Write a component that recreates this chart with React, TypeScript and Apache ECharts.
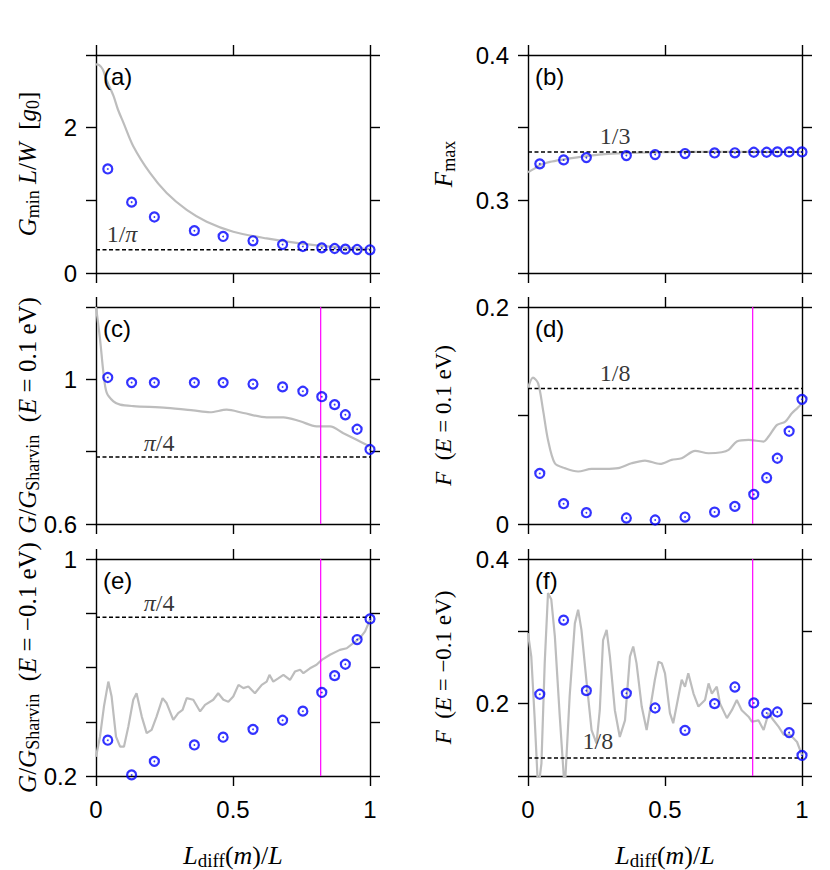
import React, { useEffect, useRef } from 'react';
import * as echarts from 'echarts';

// ---------- data ----------
const markerX = [0.043, 0.13, 0.213, 0.359, 0.464, 0.573, 0.681, 0.755, 0.824, 0.871, 0.91, 0.953, 1.0];

const dotsA = [1.432, 0.975, 0.771, 0.582, 0.503, 0.443, 0.392, 0.365, 0.346, 0.337, 0.328, 0.323, 0.319];
const dotsB = [0.3251, 0.3278, 0.3294, 0.3308, 0.3315, 0.3322, 0.3326, 0.3327, 0.3331, 0.3331, 0.3333, 0.3333, 0.3333];
const dotsC = [1.005, 0.991, 0.991, 0.991, 0.991, 0.987, 0.979, 0.967, 0.952, 0.93, 0.902, 0.862, 0.806];
const dotsD = [0.0466, 0.0187, 0.0104, 0.0055, 0.0037, 0.0064, 0.011, 0.0162, 0.0273, 0.0426, 0.0606, 0.0855, 0.1149];
const dotsE = [0.332, 0.204, 0.254, 0.3145, 0.343, 0.372, 0.4055, 0.439, 0.508, 0.57, 0.612, 0.703, 0.779];
const dotsF = [0.213, 0.3155, 0.218, 0.2143, 0.194, 0.163, 0.2, 0.223, 0.201, 0.187, 0.1885, 0.16, 0.1284];

const curveAX = [0, 0.012, 0.025, 0.039, 0.0635, 0.08, 0.1, 0.136, 0.197, 0.258, 0.331, 0.404, 0.501, 0.623, 0.745, 0.866, 1];
const curveAY = [2.87, 2.86, 2.8, 2.65, 2.44, 2.25, 2.07, 1.745, 1.377, 1.1, 0.868, 0.706, 0.568, 0.476, 0.407, 0.36, 0.33];

const curveBX = [0, 0.02, 0.046, 0.08, 0.131, 0.18, 0.216, 0.28, 0.358, 0.45, 0.6, 0.8, 1];
const curveBY = [0.3193, 0.3215, 0.3245, 0.3265, 0.3282, 0.3296, 0.3305, 0.3318, 0.3325, 0.333, 0.3333, 0.3333, 0.3333];

const curveCX = [0, 0.0146, 0.027, 0.039, 0.0635, 0.088, 0.136, 0.258, 0.355, 0.416, 0.477, 0.538, 0.623, 0.684, 0.745, 0.805, 0.854, 0.903, 0.951, 1];
const curveCY = [1.2, 1.112, 1.019, 0.963, 0.939, 0.93, 0.926, 0.921, 0.914, 0.909, 0.916, 0.907, 0.895, 0.895, 0.884, 0.87, 0.87, 0.851, 0.833, 0.814];

const curveDX = [0, 0.018, 0.037, 0.055, 0.073, 0.098, 0.134, 0.183, 0.232, 0.28, 0.329, 0.378, 0.427, 0.482, 0.524, 0.561, 0.61, 0.659, 0.707, 0.732, 0.762, 0.805, 0.86, 0.878, 0.909, 0.939, 0.963, 0.982, 1];
const curveDY = [0.125, 0.135, 0.1296, 0.105, 0.0775, 0.056, 0.0515, 0.0484, 0.0508, 0.0508, 0.0515, 0.056, 0.0585, 0.0554, 0.0591, 0.0606, 0.0674, 0.0652, 0.0661, 0.0683, 0.076, 0.0775, 0.076, 0.0806, 0.0913, 0.0943, 0.102, 0.1066, 0.111];

const curveEX = [0, 0.0146, 0.029, 0.045, 0.057, 0.073, 0.088, 0.102, 0.118, 0.136, 0.148, 0.167, 0.185, 0.203, 0.221, 0.243, 0.258, 0.282, 0.3, 0.316, 0.331, 0.355, 0.38, 0.398, 0.428, 0.446, 0.465, 0.483, 0.501, 0.52, 0.538, 0.556, 0.58, 0.605, 0.623, 0.633, 0.647, 0.665, 0.684, 0.708, 0.726, 0.745, 0.757, 0.781, 0.805, 0.824, 0.854, 0.89, 0.915, 0.939, 0.963, 0.982, 1];
const curveEY = [0.271, 0.345, 0.456, 0.548, 0.493, 0.345, 0.308, 0.308, 0.382, 0.481, 0.505, 0.419, 0.358, 0.37, 0.419, 0.487, 0.468, 0.407, 0.432, 0.444, 0.487, 0.481, 0.438, 0.462, 0.481, 0.505, 0.481, 0.474, 0.493, 0.536, 0.524, 0.53, 0.505, 0.536, 0.548, 0.573, 0.548, 0.56, 0.573, 0.554, 0.585, 0.592, 0.579, 0.597, 0.61, 0.628, 0.647, 0.665, 0.671, 0.69, 0.708, 0.733, 0.776];

const curveFX = [0, 0.012, 0.024, 0.037, 0.049, 0.061, 0.073, 0.085, 0.098, 0.116, 0.134, 0.152, 0.171, 0.183, 0.195, 0.213, 0.232, 0.25, 0.262, 0.274, 0.287, 0.299, 0.317, 0.335, 0.354, 0.372, 0.384, 0.396, 0.415, 0.433, 0.445, 0.463, 0.476, 0.488, 0.5, 0.518, 0.53, 0.549, 0.561, 0.573, 0.585, 0.604, 0.622, 0.646, 0.659, 0.671, 0.689, 0.701, 0.726, 0.744, 0.762, 0.78, 0.805, 0.817, 0.841, 0.86, 0.878, 0.896, 0.915, 0.933, 0.957, 0.982, 1];
const curveFY = [0.2975, 0.265, 0.182, 0.08, 0.117, 0.256, 0.353, 0.344, 0.293, 0.182, 0.08, 0.21, 0.311, 0.33, 0.302, 0.233, 0.1635, 0.145, 0.191, 0.288, 0.302, 0.265, 0.191, 0.154, 0.177, 0.265, 0.279, 0.256, 0.196, 0.1635, 0.191, 0.233, 0.258, 0.256, 0.242, 0.187, 0.173, 0.21, 0.233, 0.2235, 0.242, 0.214, 0.196, 0.205, 0.228, 0.214, 0.2235, 0.2, 0.18, 0.191, 0.205, 0.191, 0.182, 0.175, 0.177, 0.1635, 0.187, 0.177, 0.168, 0.157, 0.157, 0.147, 0.129];

const refValues = [0.3183, 0.3333, 0.7854, 0.125, 0.7854, 0.125];
const refTexts = ['{n|1/}{i|π}', '{n|1/3}', '{i|π}{n|/4}', '{n|1/8}', '{i|π}{n|/4}', '{n|1/8}'];
const refTextPos = [[0.095, 0.536], [0.318, 0.3444], [0.23, 0.824], [0.318, 0.139], [0.23, 0.839], [0.255, 0.148]];
const magentaX = 0.82;

const yMin = [0, 0.25, 0.6, 0, 0.2, 0.1];
const yMax = [3, 0.4, 1.2, 0.2, 1, 0.4];
const yInterval = [1, 0.05, 0.2, 0.1, 0.2, 0.1];
const yTickLabels = [[0, 2], [0.3, 0.4], [0.6, 1], [0, 0.2], [0.2, 1], [0.2, 0.4]];
const xTickLabels = [0, 0.5, 1];
const panelNames = ['(a)', '(b)', '(c)', '(d)', '(e)', '(f)'];
const hasMagenta = [false, false, true, true, true, true];

const yTitles = [
  '{i|G}{s|min}{i| L}{n|/}{i|W}{n|  [}{i|g}{s|0}{n|]}',
  '{i|F}{s|max}',
  '{i|G}{n|/}{i|G}{s|Sharvin}{n|  (}{i|E}{n| = 0.1 eV)}',
  '{i|F}{n|  (}{i|E}{n| = 0.1 eV)}',
  '{i|G}{n|/}{i|G}{s|Sharvin}{n|  (}{i|E}{n| = −0.1 eV)}',
  '{i|F}{n|  (}{i|E}{n| = −0.1 eV)}',
];
const xTitle = '{i|L}{s|diff}{n|(}{i|m}{n|)/}{i|L}';

// ---------- styling ----------
const SERIF = "'Liberation Serif', 'DejaVu Serif', serif";
const SANS = "'Liberation Sans', Arial, sans-serif";
const GREY = '#bdbdbd';
const BLUE = '#0000ff';

const rich = (size: number) => ({
  i: { fontFamily: SERIF, fontStyle: 'italic', fontSize: size, lineHeight: 30, verticalAlign: 'middle', color: '#000' },
  n: { fontFamily: SERIF, fontSize: size, lineHeight: 30, verticalAlign: 'middle', color: '#000' },
  s: { fontFamily: SERIF, fontSize: Math.round(size * 0.72), lineHeight: 15, verticalAlign: 'bottom', color: '#000' },
});

const curvesX = [curveAX, curveBX, curveCX, curveDX, curveEX, curveFX];
const curvesY = [curveAY, curveBY, curveCY, curveDY, curveEY, curveFY];
const dots = [dotsA, dotsB, dotsC, dotsD, dotsE, dotsF];

const fmt = (v: number) => String(parseFloat(v.toFixed(4)));
const inList = (v: number, list: number[]) => list.some((l) => Math.abs(l - v) < 1e-7);

function buildOption() {
  const grid: any[] = [];
  const xAxis: any[] = [];
  const yAxis: any[] = [];
  const series: any[] = [];
  const graphic: any[] = [];
  const lefts = [96, 528];
  const tops = [55, 307, 559];
  const heights = [218, 217, 217];
  const axisLine = { show: true, onZero: false, lineStyle: { color: '#000', width: 1.4 } };
  const axisTick = { show: true, inside: false, length: 10, lineStyle: { color: '#000', width: 1.4 } };

  for (let i = 0; i < 6; i++) {
    const col = i % 2;
    const row = Math.floor(i / 2);
    const left = lefts[col];
    const top = tops[row];
    const height = heights[row];
    grid.push({ left, top, width: 274, height, show: false });
    const bottomRow = row === 2;
    const xl = xTickLabels;
    xAxis.push({
      type: 'value', gridIndex: i, position: 'bottom', min: 0, max: 1, interval: 0.5,
      axisLine, axisTick, splitLine: { show: false },
      axisLabel: {
        show: bottomRow, margin: 21, fontFamily: SANS, fontSize: 24, color: '#000',
        formatter: (v: number) => (inList(v, xl) ? fmt(v) : ''),
      },
    });
    xAxis.push({
      type: 'value', gridIndex: i, position: 'top', min: 0, max: 1, interval: 0.5,
      axisLine, axisTick, splitLine: { show: false }, axisLabel: { show: false },
    });
    const yl = yTickLabels[i];
    yAxis.push({
      type: 'value', gridIndex: i, position: 'left', min: yMin[i], max: yMax[i], interval: yInterval[i],
      axisLine, axisTick, splitLine: { show: false },
      axisLabel: {
        margin: 19, fontFamily: SANS, fontSize: 24, color: '#000',
        formatter: (v: number) => (inList(v, yl) ? fmt(v) : ''),
      },
    });
    yAxis.push({
      type: 'value', gridIndex: i, position: 'right', min: yMin[i], max: yMax[i], interval: yInterval[i],
      axisLine, axisTick, splitLine: { show: false }, axisLabel: { show: false },
    });
    const xi = 2 * i;
    const yi = 2 * i;
    const cx = curvesX[i];
    const cy = curvesY[i];
    series.push({
      type: 'line', xAxisIndex: xi, yAxisIndex: yi, showSymbol: false, symbol: 'none', clip: true,
      smooth: i < 4 ? 0.3 : false,
      lineStyle: { color: GREY, width: 2.2 },
      data: cx.map((x, k) => [x, cy[k]]),
      z: 1,
    });
    series.push({
      type: 'line', xAxisIndex: xi, yAxisIndex: yi, symbol: 'none',
      lineStyle: { color: '#000', width: 1.5, type: [4, 2.5] },
      data: [[0, refValues[i]], [1, refValues[i]]],
      z: 2,
    });
    if (hasMagenta[i]) {
      series.push({
        type: 'line', xAxisIndex: xi, yAxisIndex: yi, symbol: 'none',
        lineStyle: { color: '#ff00ff', width: 1.2 },
        data: [[magentaX, yMin[i]], [magentaX, yMax[i]]],
        z: 3,
      });
    }
    const d = dots[i];
    series.push({
      type: 'scatter', xAxisIndex: xi, yAxisIndex: yi, symbol: 'circle', symbolSize: 9,
      itemStyle: { color: 'rgba(0,0,0,0)', borderColor: BLUE, borderWidth: 2.2 },
      data: markerX.map((x, k) => [x, d[k]]),
      z: 5,
    });
    series.push({
      type: 'scatter', xAxisIndex: xi, yAxisIndex: yi, symbol: 'circle', symbolSize: 1.8,
      itemStyle: { color: BLUE },
      data: markerX.map((x, k) => [x, d[k]]),
      z: 6,
    });
    series.push({
      type: 'scatter', xAxisIndex: xi, yAxisIndex: yi, symbol: 'circle', symbolSize: 1,
      itemStyle: { color: 'rgba(0,0,0,0)' },
      data: [refTextPos[i]],
      label: { show: true, position: 'inside', formatter: refTexts[i], rich: rich(24) },
      silent: true,
      z: 4,
    });

    // panel label
    graphic.push({
      type: 'text', x: left + 7, y: top + (row === 2 ? 21 : 21),
      style: { text: panelNames[i], font: `24px ${SANS}`, fill: '#000', align: 'left', verticalAlign: 'middle' },
      z: 10,
    });
    // y title
    graphic.push({
      type: 'text', x: col === 0 ? 27 : 443, y: top + height / 2, rotation: Math.PI / 2,
      style: { text: yTitles[i], rich: rich(i === 3 || i === 5 ? 23 : 25), align: 'center', verticalAlign: 'middle', fill: '#000' },
      z: 10,
    });
  }
  // x titles
  [233, 665].forEach((cx) => {
    graphic.push({
      type: 'text', x: cx, y: 855,
      style: { text: xTitle, rich: rich(26), align: 'center', verticalAlign: 'middle', fill: '#000' },
      z: 10,
    });
  });

  return {
    animation: false,
    backgroundColor: '#fff',
    grid, xAxis, yAxis, series, graphic,
  };
}

export default function App() {
  const ref = useRef<HTMLDivElement>(null);
  useEffect(() => {
    const chart = echarts.init(ref.current!, null, { renderer: 'svg' });
    chart.setOption(buildOption() as any);
    return () => chart.dispose();
  }, []);
  return (
    <div
      ref={ref}
      style={{ position: 'absolute', left: 0, top: 0, width: 830, height: 870, background: '#fff' }}
    />
  );
}
